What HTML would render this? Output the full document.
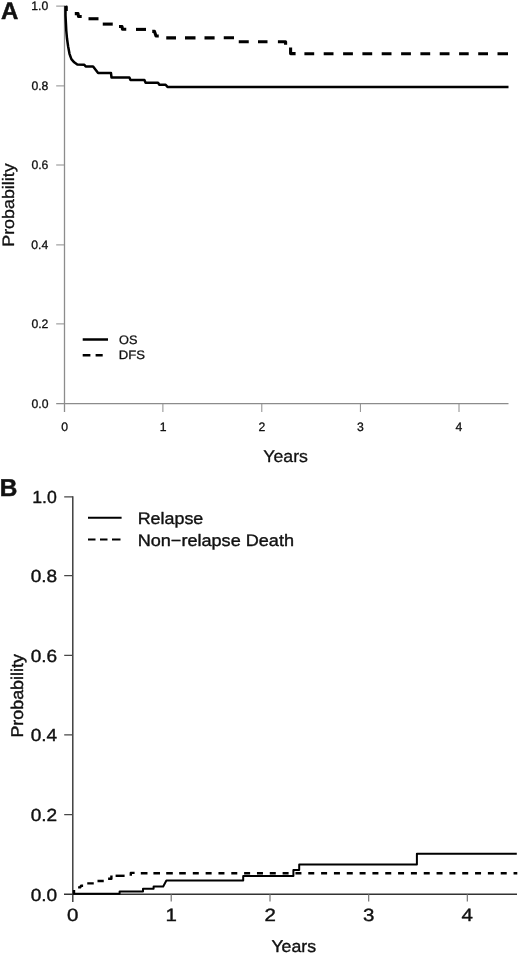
<!DOCTYPE html>
<html><head><meta charset="utf-8"><title>Figure</title>
<style>
html,body{margin:0;padding:0;background:#fff;}
svg{display:block;}
text{font-family:"Liberation Sans",sans-serif;fill:#111;stroke:#111;stroke-linejoin:round;text-rendering:geometricPrecision;}
#panelA text{stroke-width:0.3;}
#panelB text{stroke-width:0.38;}
.ax{stroke:#8c8c8c;stroke-width:1.3;fill:none;}
.at{stroke:#8c8c8c;stroke-width:1;fill:none;}
.bx{stroke:#333;stroke-width:1.4;fill:none;}
.bt{stroke:#484848;stroke-width:1.25;fill:none;}
.cv{stroke:#000;fill:none;stroke-linejoin:round;}
</style></head>
<body>
<svg width="520" height="955" viewBox="0 0 520 955">
<rect width="520" height="955" fill="#fff"/>

<!-- ================= Panel A ================= -->
<g id="panelA">
<text x="1" y="19.2" font-size="24" font-weight="bold" style="stroke-width:0.5">A</text>
<!-- axes -->
<path class="ax" d="M64.5 5.6V412M56.2 403.6H508.5"/>
<path class="at" d="M56.2 6.1H64.6M56.2 85.9H64.6M56.2 165H64.6M56.2 244.9H64.6M56.2 323.9H64.6"/>
<path class="at" d="M162.9 403.6V412M261.8 403.6V412M360.4 403.6V412M459 403.6V412"/>
<!-- y labels -->
<g font-size="12.2" text-anchor="end">
<text x="48.3" y="10.1">1.0</text>
<text x="48.4" y="89.6">0.8</text>
<text x="48.4" y="169">0.6</text>
<text x="48.3" y="249.2">0.4</text>
<text x="48.4" y="327.9">0.2</text>
<text x="48.5" y="407.7">0.0</text>
</g>
<g font-size="12.2" text-anchor="middle">
<text x="64.6" y="431.4">0</text>
<text x="163.2" y="431.4">1</text>
<text x="261.8" y="431.4">2</text>
<text x="360.4" y="431.4">3</text>
<text x="459" y="431.4">4</text>
</g>
<text x="263.3" y="462.3" font-size="17" textLength="44.7" lengthAdjust="spacingAndGlyphs">Years</text>
<text transform="translate(14.1 246.8) rotate(-90)" font-size="16.6" textLength="83.5" lengthAdjust="spacingAndGlyphs">Probability</text>
<!-- OS -->
<path class="cv" stroke-width="2.5" d="M65.5 6L65.5 15.4L65.9 23.1L66.3 30.8L67 38.5L68.1 46.2L69.5 53.8L71.4 59.2L74.2 62.3L77.3 64.5L84.3 64.8L85.7 66.6H93.1L98.1 73.1H111L111.5 77.5H129.4L130.5 80H144.4L145.6 82.75H158L159.4 84.75H165.6L167.5 86.9H508.5"/>
<path class="cv" stroke-width="2.4" d="M65.6 6.8H66.6V11"/>
<!-- DFS -->
<g class="cv" stroke-width="3.1">
<path d="M74.8 13.6H78L78.5 16.5H81.7"/>
<path d="M88.5 18.75H98.5"/>
<path d="M102.75 24.1H112.75"/>
<path d="M119 26.5H122L122.5 29.2H126.25"/>
<path d="M136 29.4H146"/>
<path d="M152.25 31.4H154.5L156 36H158.75"/>
<path d="M166.25 37.9H176M185 37.9H195.5M204.5 37.9H214.6M223.75 37.8H234"/>
<path d="M238.75 41.8H248.75M258 41.8H267.5"/>
<path d="M277.9 41.7H285.6V44.8"/>
<path d="M290.6 47.6V53.6H295.6"/>
<path d="M304.4 53.75H314.2M323.7 53.75H333.5M343.1 53.75H352.9M362.4 53.75H372.2M381.7 53.75H391.5M401.1 53.75H410.9M420.4 53.75H430.2M439.7 53.75H449.5M459.1 53.75H468.7M478.2 53.75H488M497.5 53.75H508"/>
</g>
<!-- legend -->
<path class="cv" stroke-width="2.5" d="M82.7 339.5H108"/>
<path class="cv" stroke-width="2.5" d="M82.7 355.2H90.4M95.6 355.2H102.7"/>
<text x="119" y="344" font-size="12.3" textLength="18.4" lengthAdjust="spacingAndGlyphs">OS</text>
<text x="118.7" y="359.4" font-size="12.3" textLength="26.2" lengthAdjust="spacingAndGlyphs">DFS</text>
</g>

<!-- ================= Panel B ================= -->
<g id="panelB">
<text x="-0.3" y="496.4" font-size="24.4" font-weight="bold" style="stroke-width:0.5">B</text>
<path class="bx" d="M72.8 496.2V902M64 894.3H517"/>
<path class="bt" d="M64.2 496.9H72.9M64.2 575.5H72.9M64.2 655.3H72.9M64.2 734.9H72.9M64.2 814.7H72.9"/>
<path d="M171.2 894V901.4M270 894V901.4M368.7 894V901.4M467.3 894V901.4" stroke="#6a6a6a" stroke-width="1.1" fill="none"/>
<g font-size="17.6" text-anchor="end">
<text x="56.8" y="503.25" textLength="24.6" lengthAdjust="spacingAndGlyphs">1.0</text>
<text x="57.2" y="582.25" textLength="26.5" lengthAdjust="spacingAndGlyphs">0.8</text>
<text x="57.2" y="662.05" textLength="26.5" lengthAdjust="spacingAndGlyphs">0.6</text>
<text x="57.2" y="741.35" textLength="26.5" lengthAdjust="spacingAndGlyphs">0.4</text>
<text x="57.2" y="821.25" textLength="26.5" lengthAdjust="spacingAndGlyphs">0.2</text>
<text x="57.2" y="900.85" textLength="26.5" lengthAdjust="spacingAndGlyphs">0.0</text>
</g>
<g font-size="17.8">
<text x="66.9" y="921.2" textLength="11.4" lengthAdjust="spacingAndGlyphs">0</text>
<text x="165.6" y="921.2" textLength="11.4" lengthAdjust="spacingAndGlyphs">1</text>
<text x="264.4" y="921.2" textLength="11.4" lengthAdjust="spacingAndGlyphs">2</text>
<text x="363.1" y="921.2" textLength="11.4" lengthAdjust="spacingAndGlyphs">3</text>
<text x="461.6" y="921.2" textLength="11.4" lengthAdjust="spacingAndGlyphs">4</text>
</g>
<text x="271.4" y="952.3" font-size="17" textLength="44.6" lengthAdjust="spacingAndGlyphs">Years</text>
<text transform="translate(23 737.6) rotate(-90)" font-size="17" textLength="83.5" lengthAdjust="spacingAndGlyphs">Probability</text>
<!-- relapse -->
<path class="cv" stroke-width="2" d="M72.9 893.7H119.6V891.5H143V888.8H153.6V886.5H163.2L166.4 880.5H243.2V876H293.4V870.1H299.2V864.6H416.9V853.8H516.8"/>
<!-- NRD -->
<g class="cv" stroke-width="2.4">
<path d="M74 893V890"/>
<path d="M78.1 887.4H80.2L81 885.8H83.1"/>
<path d="M87.25 883.4H93.75M97.5 881H103.75"/>
<path d="M108.1 878.8H111.4V875.4"/>
<path d="M115.6 875.8H124.6"/>
<path d="M130.8 875.8V872.9H134.6"/>
<path d="M140.8 873.3H147.5M153.4 873.3H160M166.2 873.3H172.8M179.2 873.3H185.8"/>
</g>
<path class="cv" stroke-width="2.4" stroke-dasharray="6 6.83" d="M192.8 873.3H517.3"/>
<!-- legend -->
<path class="cv" stroke-width="2.1" d="M88 517.7H121.6"/>
<path class="cv" stroke-width="2.1" d="M88 539.5H95.5M100 539.5H107.5M112 539.5H120.5"/>
<text x="137.7" y="523.9" font-size="16.6" textLength="65.6" lengthAdjust="spacingAndGlyphs">Relapse</text>
<text x="137.7" y="545.7" font-size="16.6" textLength="156.3" lengthAdjust="spacingAndGlyphs">Non−relapse Death</text>
</g>
</svg>
</body></html>
